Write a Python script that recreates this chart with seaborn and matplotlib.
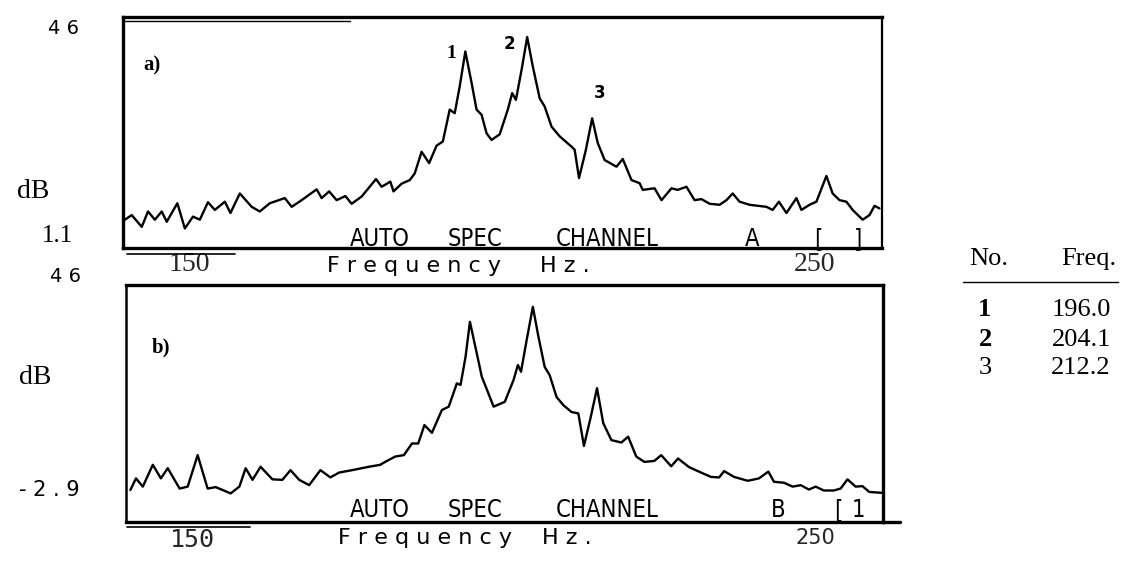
import matplotlib
matplotlib.use("Agg")
import matplotlib.pyplot as plt
from matplotlib.lines import Line2D
import seaborn as sns
import pandas as pd

# spectrum, channel A (Hz, dB)
freq_a = [139.6, 140.7, 142.3, 143.3, 144.4, 145.5, 146.3, 148.0, 149.2, 150.5,
          151.6, 152.9, 154.0, 155.6, 156.5, 158.0, 159.9, 161.2, 162.8, 165.2,
          166.3, 167.9, 170.3, 171.1, 172.3, 173.5, 174.9, 175.9, 177.5, 179.8,
          180.7, 182.1, 182.6, 183.9, 185.2, 186.0, 187.1, 188.3, 189.5, 190.5,
          191.6, 192.4, 193.2, 194.1, 195.1, 195.9, 196.7, 197.5, 198.3, 199.6,
          200.9, 201.6, 202.2, 203.1, 204.0, 204.9, 206.0, 206.8, 207.9, 209.2,
          211.1, 211.6, 212.3, 213.4, 214.4, 215.3, 216.4, 218.3, 219.3, 220.7,
          222.0, 222.5, 224.4, 225.5, 227.1, 228.1, 229.5, 230.8, 231.9, 233.2,
          234.8, 235.9, 236.9, 238.0, 239.6, 242.3, 243.3, 244.3, 245.5, 247.1,
          247.9, 249.2, 250.3, 251.9, 252.9, 254.0, 255.1, 256.1, 257.7, 258.8,
          259.6, 260.4]
db_a = [6.6, 7.5, 5.2, 8.2, 6.6, 8.2, 6.2, 9.8, 4.9, 7.2,
        6.6, 10.0, 8.5, 10.1, 7.9, 11.7, 9.1, 8.2, 9.8, 10.8,
        9.1, 10.4, 12.5, 10.8, 12.1, 10.4, 11.2, 9.7, 11.1, 14.5,
        13.0, 14.0, 12.1, 13.6, 14.3, 15.6, 19.8, 17.6, 21.0, 21.8,
        28.0, 27.3, 32.5, 39.3, 33.2, 28.0, 27.0, 23.4, 22.1, 23.2,
        28.0, 31.2, 29.9, 35.7, 42.1, 36.4, 30.2, 28.6, 24.7, 22.8,
        20.8, 20.2, 14.7, 20.2, 26.3, 21.5, 18.2, 16.9, 18.4, 14.3,
        13.7, 12.4, 12.7, 10.4, 12.7, 12.4, 13.0, 10.4, 10.6, 9.7,
        9.5, 10.4, 11.7, 10.1, 9.5, 9.1, 8.5, 10.1, 7.9, 10.8,
        8.5, 9.5, 10.1, 15.1, 11.7, 10.4, 10.1, 8.5, 6.6, 7.5,
        9.3, 8.8]

# spectrum, channel B (Hz, dB)
freq_b = [140.0, 140.9, 142.0, 143.6, 144.9, 146.0, 147.9, 149.2, 150.8, 152.4,
          153.7, 156.1, 157.5, 158.5, 159.6, 160.9, 162.8, 164.4, 165.7, 167.1,
          168.7, 170.5, 172.1, 173.5, 175.6, 178.3, 180.1, 180.9, 182.5, 183.9,
          185.2, 186.2, 187.2, 188.4, 190.0, 191.1, 192.4, 193.0, 193.8, 194.5,
          195.6, 196.4, 197.2, 198.3, 200.1, 201.5, 202.2, 202.7, 203.6, 204.6,
          205.5, 206.5, 207.3, 208.4, 209.5, 210.8, 211.9, 212.8, 213.9, 214.9,
          215.9, 217.2, 218.8, 219.9, 221.2, 222.5, 224.1, 225.2, 226.8, 227.9,
          229.7, 231.6, 233.2, 234.5, 235.3, 236.9, 239.1, 240.9, 242.4, 243.3,
          244.9, 246.3, 247.6, 248.9, 250.0, 251.3, 252.9, 254.0, 255.1, 256.4,
          257.5, 258.6, 260.8]
db_b = [3.7, 6.1, 4.4, 8.9, 6.1, 8.2, 4.0, 4.4, 10.9, 4.0,
        4.3, 3.0, 4.4, 8.2, 5.8, 8.5, 5.9, 5.8, 7.8, 5.8,
        4.7, 7.8, 6.3, 7.3, 7.8, 8.5, 8.9, 9.5, 10.6, 10.9,
        13.3, 13.3, 17.1, 15.5, 20.2, 20.9, 25.7, 25.4, 31.2, 38.4,
        31.9, 27.1, 24.5, 20.9, 21.9, 26.4, 29.5, 28.1, 34.6, 41.5,
        35.3, 29.1, 27.4, 22.9, 21.2, 19.8, 19.5, 12.8, 18.8, 24.7,
        17.5, 14.0, 13.5, 14.7, 10.6, 9.5, 9.7, 10.9, 8.6, 10.2,
        8.4, 7.3, 6.4, 6.3, 7.6, 6.4, 5.6, 6.1, 7.5, 5.4,
        5.2, 4.4, 4.7, 3.8, 4.4, 3.6, 3.6, 4.0, 5.9, 4.4,
        4.5, 3.3, 3.1]

x_ticks = [150, 250]
ylim_a = (1.1, 46)
ylim_b = (-2.9, 46)

# peak table
peak_no = ["1", "2", "3"]
peak_freq = ["196.0", "204.1", "212.2"]

W, H = 1142, 569
SERIF = "Liberation Serif"
SANS = "DejaVu Sans"
MONO = "DejaVu Sans Mono"

sns.set_style("white")
plt.rcParams["font.family"] = [SANS]

fig = plt.figure(figsize=(W / 100, H / 100), dpi=100)


def fx(x):
    return x / W


def fy(y):
    return 1 - y / H


def ftext(x, y, s, **kw):
    kw.setdefault("va", "center")
    kw.setdefault("color", "black")
    fig.text(fx(x), fy(y), s, **kw)


def fline(x0, x1, y0, y1, lw):
    fig.add_artist(Line2D([fx(x0), fx(x1)], [fy(y0), fy(y1)], lw=lw, color="black"))


ax_a = fig.add_axes([fx(123), fy(248), (882 - 123) / W, (248 - 17) / H])
ax_b = fig.add_axes([fx(126), fy(522), (883 - 126) / W, (522 - 285) / H])

df_a = pd.DataFrame({"freq": freq_a, "db": db_a})
df_b = pd.DataFrame({"freq": freq_b, "db": db_b})

for ax, df, ylim in [(ax_a, df_a, ylim_a), (ax_b, df_b, ylim_b)]:
    sns.lineplot(data=df, x="freq", y="db", ax=ax, color="black", lw=1.7,
                 estimator=None, sort=False)
    ax.lines[-1].set_solid_joinstyle("round")
    ax.set_xlim(139.3, 260.8)
    ax.set_ylim(*ylim)
    ax.set_yticks([])
    ax.set_xticks(x_ticks)
    ax.set_xlabel("")
    ax.set_ylabel("")
    ax.tick_params(axis="x", length=0)
    for sp in ax.spines.values():
        sp.set_color("black")
        sp.set_linewidth(2.4)

ax_a.spines["right"].set_linewidth(1.6)
ax_b.spines["left"].set_linewidth(1.8)

# tick labels: serif on panel a, plotter style on panel b
ax_a.set_xticklabels(["150", "250"], fontfamily=SERIF, fontsize=20)
ax_a.tick_params(axis="x", pad=3)
labs = ax_b.set_xticklabels(["150", "250"])
labs[0].set_fontfamily(MONO)
labs[0].set_fontsize(18)
labs[1].set_fontfamily(SANS)
labs[1].set_fontsize(15)
ax_b.tick_params(axis="x", pad=4)

# left-hand scale text
ftext(64, 28, "4 6", ha="center", fontsize=14)
ftext(33, 191, "dB", ha="center", fontfamily=SERIF, fontsize=20)
ftext(57, 236, "1.1", ha="center", fontfamily=SERIF, fontsize=18)
ftext(66, 277, "4 6", ha="center", fontsize=14)
ftext(35, 377, "dB", ha="center", fontfamily=SERIF, fontsize=20)
ftext(49, 490, "- 2 . 9", ha="center", fontsize=15)

# panel letters and peak numbers
ftext(152, 65, "a)", ha="center", fontfamily=SERIF, fontweight="bold", fontsize=15)
ftext(161, 347, "b)", ha="center", fontfamily=SERIF, fontweight="bold", fontsize=15)
ftext(451, 54, "1", ha="center", fontfamily=SERIF, fontweight="bold", fontsize=14)
ftext(509, 44, "2", ha="center", fontweight="bold", fontsize=12)
ftext(600, 93, "3", ha="center", fontweight="bold", fontsize=12)

# analyser captions
cap = dict(fontsize=17, fontstretch="condensed")
for yc, ch, tag in [(239, "A", ("[", "]")), (510, "B", ("[", "1"))]:
    ftext(350, yc, "AUTO", ha="left", **cap)
    ftext(448, yc, "SPEC", ha="left", **cap)
    ftext(556, yc, "CHANNEL", ha="left", **cap)
    ftext(752 if ch == "A" else 778, yc, ch, ha="center", **cap)
    ftext(818 if ch == "A" else 838, yc, tag[0], ha="center", **cap)
    ftext(858, yc, tag[1], ha="center", **cap)

# axis caption
ftext(327, 266, "F r e q u e n c y", ha="left", fontsize=16)
ftext(540, 266, "H z .", ha="left", fontsize=16)
ftext(338, 538, "F r e q u e n c y", ha="left", fontsize=16)
ftext(542, 538, "H z .", ha="left", fontsize=16)

# scan-like extra rules around the frames
fline(123, 350, 20.5, 20.5, 1.0)
fline(127, 235, 254, 254, 1.2)
fline(127, 250, 527, 527, 1.2)
fline(883, 900, 522, 522, 2.4)

# peak table
tab = dict(fontfamily=SERIF, fontsize=19)
ftext(989, 259, "No.", ha="center", **tab)
ftext(1089, 259, "Freq.", ha="center", **tab)
fline(963, 1118, 282, 282, 1.0)
row_y = [310, 340, 368]
for no, fr, yy, bold in zip(peak_no, peak_freq, row_y, [True, True, False]):
    ftext(985, yy, no, ha="center", fontweight="bold" if bold else "normal", **tab)
    ftext(1111, yy, fr, ha="right", **tab)

fig.savefig("out.png", dpi=100, facecolor="white")
